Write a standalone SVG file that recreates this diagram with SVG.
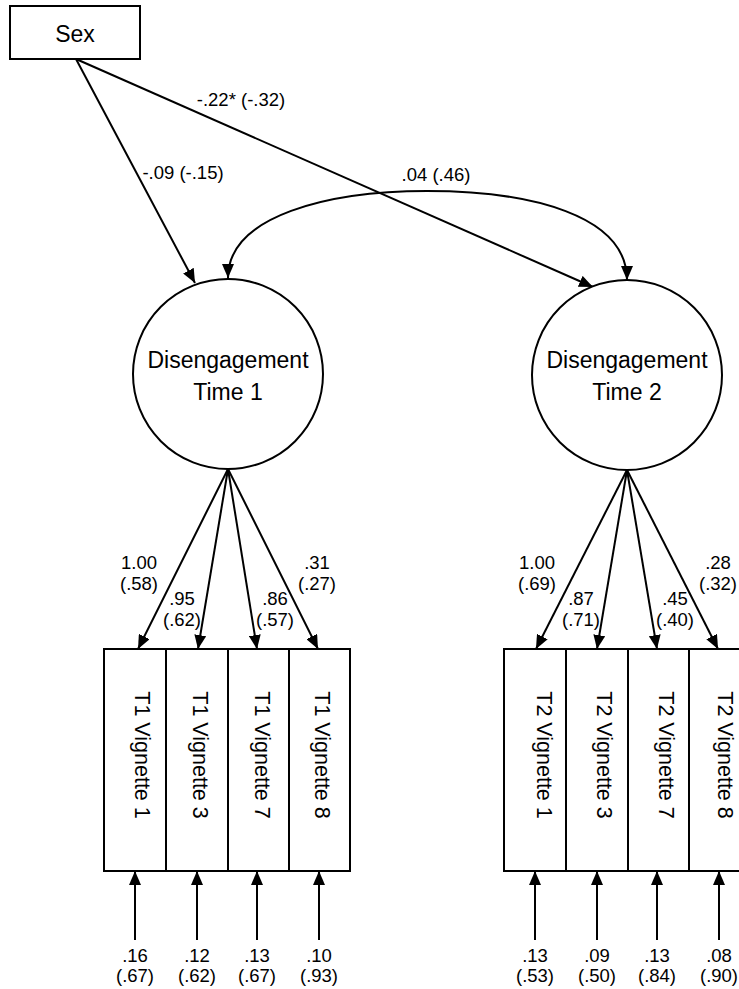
<svg xmlns="http://www.w3.org/2000/svg" width="739" height="989" viewBox="0 0 739 989">
<style>
.shape{fill:#fff;stroke:#000;stroke-width:2}
.edge{fill:none;stroke:#000;stroke-width:2}
.arr{marker-end:url(#ah)}
text{font-family:"Liberation Sans",Arial,sans-serif;fill:#000}
.lbl{font-size:18.5px;text-anchor:middle}
.big{font-size:23px;text-anchor:middle}
.vig{font-size:21.5px;text-anchor:middle}
</style>
<defs>
<marker id="ah" viewBox="0 0 14 12" refX="14" refY="6" markerWidth="14" markerHeight="12" markerUnits="userSpaceOnUse" orient="auto-start-reverse">
<path d="M0,0 L14,6 L0,12 z" fill="#000"/>
</marker>
</defs>
<rect width="739" height="989" fill="#fff"/>

<g id="connectors">
<line class="edge arr" x1="76" y1="59" x2="195" y2="283"/>
<line class="edge arr" x1="76" y1="59" x2="593" y2="287"/>
<path class="edge" d="M228,278 C228,215 330,191 427,191 C530,191 627,215 627,280" marker-start="url(#ah)" marker-end="url(#ah)"/>
<line class="edge arr" x1="228" y1="469" x2="138" y2="649"/>
<line class="edge arr" x1="228" y1="469" x2="198" y2="649"/>
<line class="edge arr" x1="228" y1="469" x2="257" y2="649"/>
<line class="edge arr" x1="228" y1="469" x2="318" y2="649"/>
<line class="edge arr" x1="627" y1="470" x2="536" y2="649"/>
<line class="edge arr" x1="627" y1="470" x2="597" y2="649"/>
<line class="edge arr" x1="627" y1="470" x2="657" y2="649"/>
<line class="edge arr" x1="627" y1="470" x2="718" y2="649"/>
<line class="edge arr" x1="135" y1="940" x2="135" y2="871"/>
<line class="edge arr" x1="197" y1="940" x2="197" y2="871"/>
<line class="edge arr" x1="257" y1="940" x2="257" y2="871"/>
<line class="edge arr" x1="319" y1="940" x2="319" y2="871"/>
<line class="edge arr" x1="535" y1="940" x2="535" y2="871"/>
<line class="edge arr" x1="597" y1="940" x2="597" y2="871"/>
<line class="edge arr" x1="657" y1="940" x2="657" y2="871"/>
<line class="edge arr" x1="719" y1="940" x2="719" y2="871"/>
</g>

<g id="edge-labels">
<text class="lbl" x="241" y="106">-.22* (-.32)</text>
<text class="lbl" x="183" y="179">-.09 (-.15)</text>
<text class="lbl" x="436" y="181">.04 (.46)</text>
<text class="lbl" x="139" y="569">1.00</text>
<text class="lbl" x="139" y="590">(.58)</text>
<text class="lbl" x="182" y="605">.95</text>
<text class="lbl" x="182" y="626">(.62)</text>
<text class="lbl" x="275" y="605">.86</text>
<text class="lbl" x="275" y="626">(.57)</text>
<text class="lbl" x="317" y="569">.31</text>
<text class="lbl" x="317" y="590">(.27)</text>
<text class="lbl" x="537" y="569">1.00</text>
<text class="lbl" x="537" y="590">(.69)</text>
<text class="lbl" x="581" y="605">.87</text>
<text class="lbl" x="581" y="626">(.71)</text>
<text class="lbl" x="675" y="605">.45</text>
<text class="lbl" x="675" y="626">(.40)</text>
<text class="lbl" x="718" y="569">.28</text>
<text class="lbl" x="718" y="590">(.32)</text>
<text class="lbl" x="135" y="962">.16</text>
<text class="lbl" x="135" y="982">(.67)</text>
<text class="lbl" x="197" y="962">.12</text>
<text class="lbl" x="197" y="982">(.62)</text>
<text class="lbl" x="257" y="962">.13</text>
<text class="lbl" x="257" y="982">(.67)</text>
<text class="lbl" x="319" y="962">.10</text>
<text class="lbl" x="319" y="982">(.93)</text>
<text class="lbl" x="535" y="962">.13</text>
<text class="lbl" x="535" y="982">(.53)</text>
<text class="lbl" x="597" y="962">.09</text>
<text class="lbl" x="597" y="982">(.50)</text>
<text class="lbl" x="657" y="962">.13</text>
<text class="lbl" x="657" y="982">(.84)</text>
<text class="lbl" x="719" y="962">.08</text>
<text class="lbl" x="719" y="982">(.90)</text>
</g>

<g id="sex">
<rect class="shape" x="10" y="6" width="130" height="53"/>
<text class="big" x="75" y="42">Sex</text>
</g>

<g id="diseng-t1">
<circle class="shape" cx="228" cy="374" r="95"/>
<text class="big" x="228" y="368">Disengagement</text>
<text class="big" x="228" y="400">Time 1</text>
</g>

<g id="diseng-t2">
<circle class="shape" cx="627" cy="375" r="95"/>
<text class="big" x="627" y="368">Disengagement</text>
<text class="big" x="627" y="400">Time 2</text>
</g>

<g id="t1v1"><rect class="shape" x="104" y="649" width="62" height="222"/><text class="vig" transform="translate(135,755) rotate(90)">T1 Vignette 1</text></g>
<g id="t1v3"><rect class="shape" x="166" y="649" width="62" height="222"/><text class="vig" transform="translate(193,755) rotate(90)">T1 Vignette 3</text></g>
<g id="t1v7"><rect class="shape" x="228" y="649" width="61" height="222"/><text class="vig" transform="translate(255,755) rotate(90)">T1 Vignette 7</text></g>
<g id="t1v8"><rect class="shape" x="289" y="649" width="61" height="222"/><text class="vig" transform="translate(315,755) rotate(90)">T1 Vignette 8</text></g>

<g id="t2v1"><rect class="shape" x="504" y="649" width="62" height="222"/><text class="vig" transform="translate(537,755) rotate(90)">T2 Vignette 1</text></g>
<g id="t2v3"><rect class="shape" x="566" y="649" width="62" height="222"/><text class="vig" transform="translate(597,755) rotate(90)">T2 Vignette 3</text></g>
<g id="t2v7"><rect class="shape" x="628" y="649" width="61" height="222"/><text class="vig" transform="translate(659,755) rotate(90)">T2 Vignette 7</text></g>
<g id="t2v8"><rect class="shape" x="689" y="649" width="62" height="222"/><text class="vig" transform="translate(718,755) rotate(90)">T2 Vignette 8</text></g>
</svg>
